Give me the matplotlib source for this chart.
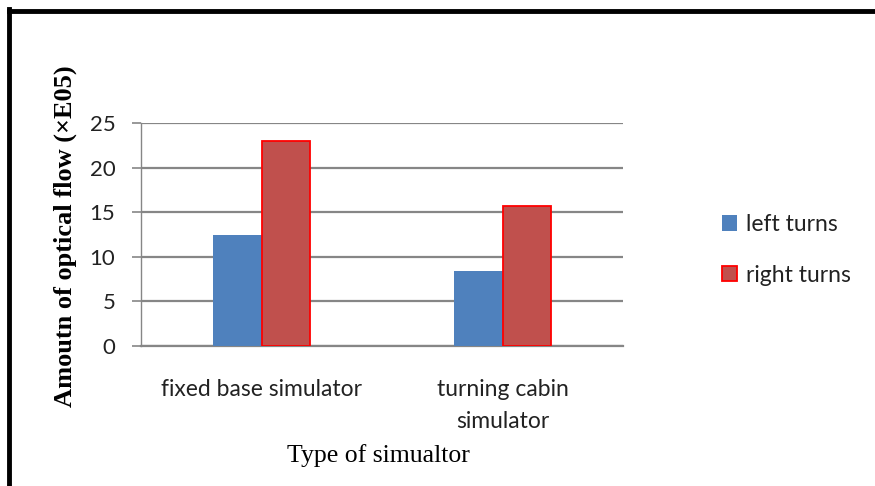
import matplotlib
matplotlib.use("Agg")
import matplotlib.pyplot as plt
from matplotlib.patches import Patch
from matplotlib.lines import Line2D
import numpy as np

categories = ["fixed base simulator", "turning cabin\nsimulator"]
left_turns = [12.4, 8.4]
right_turns = [23.0, 15.7]
series_names = ["left turns", "right turns"]
yticks = [0, 5, 10, 15, 20, 25]

W, H = 875, 486
fig = plt.figure(figsize=(W / 100, H / 100), dpi=100)
ax = fig.add_axes([141 / W, 1 - 346 / H, (623 - 141) / W, (346 - 123) / H])

blue = "#4F81BD"
red = "#C0504D"
grid = "#868686"

x = np.arange(len(categories))
bw = 0.2
ax.bar(x - bw / 2, left_turns, bw, color=blue, linewidth=0, zorder=3)
ax.bar(x + bw / 2, right_turns, bw, color=red, edgecolor="#FF0000", linewidth=1.3, zorder=3)

ax.set_xlim(-0.5, len(categories) - 0.5)
ax.set_ylim(0, 25)
ax.set_yticks(yticks)
ax.set_yticklabels([str(t) for t in yticks])
ax.yaxis.grid(True, color=grid, linewidth=1.6, zorder=0)
ax.set_axisbelow(True)
for s in ["top", "right"]:
    ax.spines[s].set_visible(False)
ax.spines["left"].set_color(grid)
ax.spines["bottom"].set_color(grid)
ax.spines["left"].set_linewidth(1.0)
ax.spines["bottom"].set_linewidth(1.6)
ax.tick_params(axis="y", length=6.5, width=1.2, color=grid, pad=12, labelsize=16,
               labelcolor="#222222")
ax.tick_params(axis="x", length=0, pad=24, labelsize=16.5, labelcolor="#222222")
for lab in ax.get_yticklabels():
    lab.set_fontfamily("Lato")
ax.set_xticks(x)
ax.set_xticklabels(categories, fontfamily="Lato", linespacing=1.6, va="top")

fig.text(65 / W, 1 - 236 / H, "Amoutn of optical flow (\u00d7E05)", rotation=90,
         ha="center", va="center", fontsize=19, fontweight="bold",
         fontfamily="Liberation Serif")
fig.text(378 / W, 1 - 456 / H, "Type of simualtor", ha="center", va="center",
         fontsize=18.5, fontfamily="Liberation Serif")

handles = [Patch(facecolor=blue, edgecolor=blue, linewidth=0),
           Patch(facecolor=red, edgecolor="#FF0000", linewidth=1.3)]
leg = fig.legend(handles, series_names, loc="center left",
                 bbox_to_anchor=(722 / W, 1 - 250 / H), frameon=False,
                 handlelength=0.65, handleheight=0.65, handletextpad=0.4,
                 labelspacing=1.3, borderpad=0, borderaxespad=0,
                 prop={"family": "Lato", "size": 16.5})
for t in leg.get_texts():
    t.set_color("#222222")

fig.add_artist(Line2D([8.5 / W, 8.5 / W], [0, 1 - 9 / H], color="black",
                      linewidth=3.5, transform=fig.transFigure, solid_capstyle="projecting"))
fig.add_artist(Line2D([8.5 / W, 1], [1 - 11 / H, 1 - 11 / H], color="black",
                      linewidth=3.5, transform=fig.transFigure, solid_capstyle="projecting"))

fig.savefig("out.png", dpi=100)
